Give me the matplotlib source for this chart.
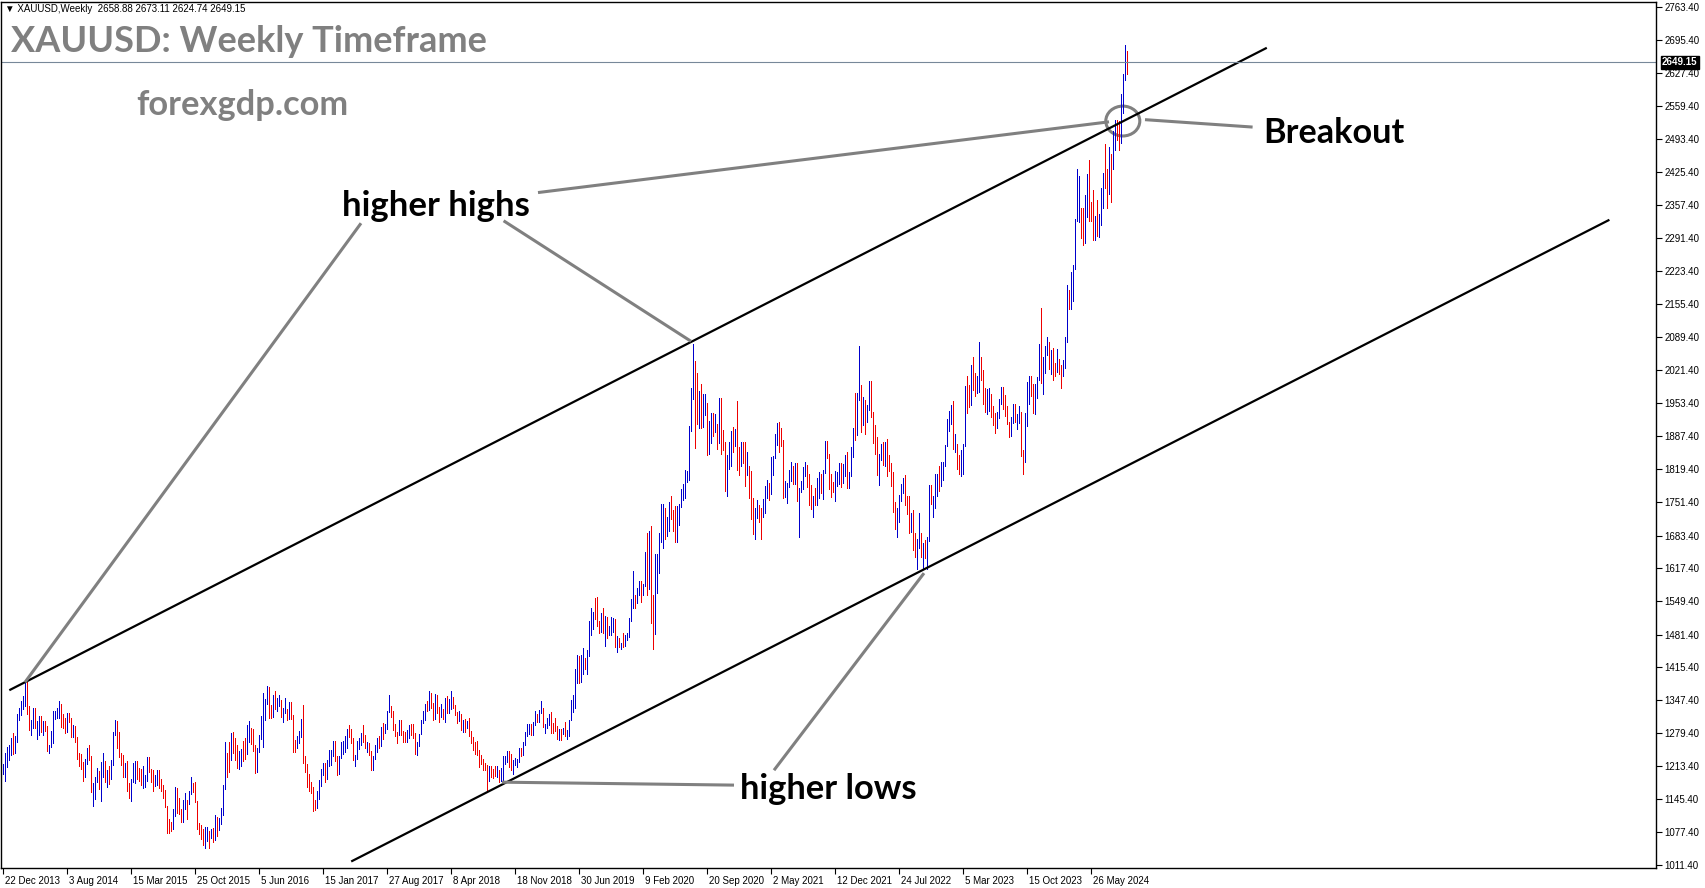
import numpy as np
import matplotlib
matplotlib.use("Agg")
import matplotlib.pyplot as plt
import matplotlib.transforms as mtransforms
from matplotlib.patches import Ellipse

# weekly XAUUSD bars, first bar = week of 22 Dec 2013, last bar = week of 29 Sep 2024
highs = [
    1217, 1240, 1251, 1255, 1270, 1280, 1274, 1320, 1332, 1345, 1355, 1385, 1392, 1336, 1307, 1331, 1331, 1305,
    1315, 1315, 1305, 1304, 1295, 1255, 1284, 1325, 1326, 1332, 1346, 1339, 1320, 1312, 1322, 1322, 1311, 1296,
    1294, 1273, 1240, 1237, 1221, 1228, 1250, 1255, 1233, 1178, 1191, 1208, 1203, 1221, 1239, 1224, 1205, 1212,
    # 2015
    1226, 1282, 1307, 1305, 1282, 1240, 1236, 1220, 1223, 1178, 1187, 1220, 1224, 1223, 1209, 1207, 1214, 1194,
    1232, 1232, 1207, 1205, 1194, 1205, 1205, 1187, 1175, 1165, 1132, 1105, 1098, 1125, 1170, 1169, 1147, 1126,
    1143, 1157, 1144, 1162, 1191, 1178, 1180, 1142, 1097, 1092, 1084, 1088, 1088, 1081, 1085, 1087,
    # 2016
    1112, 1109, 1107, 1127, 1175, 1263, 1240, 1261, 1280, 1283, 1270, 1255, 1243, 1248, 1264, 1271, 1297, 1304,
    1290, 1289, 1255, 1249, 1276, 1315, 1362, 1350, 1377, 1375, 1338, 1357, 1367, 1352, 1358, 1347, 1331, 1352,
    1330, 1344, 1343, 1318, 1267, 1275, 1285, 1308, 1338, 1233, 1218, 1197, 1180, 1171, 1144, 1163,
    # 2017
    1184, 1207, 1219, 1220, 1226, 1245, 1245, 1264, 1264, 1234, 1233, 1262, 1264, 1274, 1289, 1296, 1289, 1270,
    1236, 1264, 1270, 1281, 1296, 1277, 1261, 1260, 1243, 1234, 1256, 1270, 1275, 1292, 1300, 1299, 1326, 1358,
    1336, 1326, 1299, 1282, 1306, 1306, 1285, 1283, 1287, 1297, 1299, 1299, 1281, 1261, 1279, 1306,
    # 2018
    1326, 1339, 1345, 1366, 1362, 1341, 1361, 1357, 1334, 1340, 1329, 1352, 1356, 1349, 1366, 1354, 1337, 1323,
    1326, 1320, 1306, 1308, 1304, 1310, 1285, 1272, 1263, 1265, 1246, 1236, 1227, 1220, 1216, 1213, 1214, 1207,
    1212, 1212, 1204, 1208, 1233, 1233, 1243, 1243, 1237, 1225, 1230, 1228, 1250, 1250, 1262, 1283,
    # 2019
    1298, 1298, 1298, 1303, 1326, 1320, 1327, 1346, 1331, 1299, 1311, 1320, 1324, 1300, 1310, 1294, 1288, 1289,
    1290, 1303, 1287, 1306, 1348, 1358, 1411, 1439, 1437, 1439, 1453, 1434, 1449, 1509, 1535, 1527, 1555, 1557,
    1510, 1525, 1535, 1519, 1517, 1498, 1518, 1516, 1514, 1478, 1475, 1465, 1484, 1480, 1485, 1515,
    # 2020
    1553, 1611, 1563, 1576, 1591, 1591, 1584, 1649, 1689, 1692, 1703, 1562, 1645, 1645, 1689, 1747, 1747, 1739,
    1722, 1751, 1765, 1735, 1744, 1744, 1747, 1779, 1789, 1818, 1815, 1908, 1984, 2075, 2040, 2016, 1978, 1992,
    1973, 1973, 1954, 1917, 1933, 1933, 1932, 1911, 1965, 1965, 1898, 1875, 1848, 1875, 1897, 1906, 1900,
    # 2021
    1959, 1864, 1875, 1875, 1875, 1855, 1825, 1815, 1760, 1740, 1755, 1745, 1740, 1758, 1784, 1797, 1790, 1843,
    1845, 1890, 1913, 1916, 1903, 1878, 1795, 1790, 1818, 1834, 1825, 1832, 1832, 1780, 1795, 1823, 1834, 1827,
    1809, 1787, 1764, 1781, 1800, 1814, 1810, 1818, 1877, 1877, 1849, 1810, 1793, 1815, 1813, 1831,
    # 2022
    1831, 1830, 1848, 1853, 1814, 1865, 1902, 1974, 1974, 2070, 1990, 1966, 1960, 1950, 1998, 1998, 1936, 1909,
    1885, 1849, 1870, 1874, 1875, 1880, 1847, 1832, 1813, 1752, 1740, 1767, 1788, 1801, 1807, 1765, 1765, 1729,
    1735, 1688, 1676, 1729, 1689, 1669, 1675, 1681, 1786, 1787, 1764, 1810, 1810, 1825, 1833, 1833,
    # 2023
    1869, 1922, 1937, 1949, 1959, 1890, 1870, 1847, 1858, 1870, 1989, 2010, 1990, 2032, 2048, 2015, 2009, 2079,
    2048, 2022, 1985, 1983, 1985, 1972, 1947, 1934, 1935, 1963, 1987, 1987, 1970, 1948, 1916, 1925, 1953, 1953,
    1932, 1947, 1935, 1858, 1933, 1997, 2009, 2009, 1993, 1993, 2008, 2075, 2148, 2048, 2070, 2088,
    # 2024
    2078, 2062, 2067, 2036, 2065, 2044, 2031, 2041, 2088, 2195, 2185, 2222, 2236, 2330, 2431, 2417, 2353, 2352,
    2378, 2422, 2450, 2364, 2388, 2335, 2368, 2340, 2392, 2424, 2483, 2432, 2477, 2462, 2509, 2531, 2531, 2529,
    2585, 2625, 2685, 2673.11,
]
lows = [
    1196, 1182, 1211, 1225, 1235, 1238, 1240, 1261, 1306, 1318, 1330, 1336, 1320, 1287, 1277, 1291, 1291, 1268,
    1277, 1283, 1277, 1284, 1244, 1240, 1251, 1260, 1309, 1310, 1311, 1292, 1290, 1281, 1282, 1302, 1273, 1273,
    1262, 1227, 1214, 1207, 1183, 1190, 1218, 1226, 1160, 1131, 1145, 1180, 1167, 1142, 1190, 1180, 1170, 1177,
    # 2015
    1186, 1215, 1276, 1250, 1232, 1216, 1191, 1191, 1162, 1147, 1142, 1180, 1178, 1186, 1183, 1175, 1169, 1170,
    1182, 1200, 1180, 1162, 1172, 1175, 1168, 1162, 1147, 1130, 1077, 1077, 1080, 1085, 1110, 1117, 1115, 1098,
    1098, 1125, 1105, 1136, 1155, 1160, 1140, 1085, 1075, 1065, 1052, 1046, 1059, 1046, 1066, 1057,
    # 2016
    1061, 1071, 1082, 1095, 1113, 1166, 1191, 1200, 1226, 1240, 1226, 1208, 1207, 1212, 1224, 1227, 1237, 1262,
    1258, 1244, 1199, 1200, 1241, 1269, 1251, 1307, 1339, 1310, 1310, 1313, 1330, 1326, 1335, 1314, 1302, 1322,
    1306, 1308, 1309, 1241, 1241, 1250, 1259, 1273, 1220, 1201, 1171, 1161, 1157, 1122, 1124, 1128,
    # 2017
    1146, 1173, 1194, 1180, 1187, 1214, 1216, 1233, 1223, 1195, 1196, 1229, 1237, 1241, 1250, 1273, 1260, 1226,
    1214, 1228, 1247, 1255, 1262, 1250, 1242, 1236, 1204, 1205, 1227, 1242, 1250, 1253, 1268, 1281, 1289, 1324,
    1314, 1287, 1275, 1260, 1277, 1277, 1262, 1263, 1263, 1270, 1276, 1270, 1237, 1236, 1253, 1278,
    # 2018
    1300, 1307, 1325, 1327, 1331, 1307, 1309, 1321, 1303, 1313, 1309, 1303, 1321, 1321, 1330, 1331, 1317, 1301,
    1304, 1286, 1283, 1282, 1290, 1275, 1260, 1245, 1237, 1236, 1211, 1217, 1204, 1205, 1160, 1183, 1190, 1189,
    1192, 1190, 1180, 1182, 1183, 1218, 1221, 1211, 1205, 1196, 1215, 1211, 1221, 1233, 1236, 1256,
    # 2019
    1275, 1279, 1276, 1276, 1297, 1302, 1302, 1321, 1292, 1281, 1290, 1297, 1281, 1280, 1284, 1269, 1266, 1266,
    1279, 1274, 1269, 1274, 1306, 1323, 1331, 1382, 1382, 1385, 1401, 1412, 1400, 1437, 1480, 1492, 1514, 1499,
    1484, 1486, 1485, 1458, 1474, 1480, 1481, 1486, 1456, 1445, 1456, 1452, 1455, 1458, 1471, 1477,
    # 2020
    1508, 1536, 1536, 1546, 1562, 1547, 1563, 1580, 1563, 1575, 1504, 1451, 1482, 1567, 1608, 1671, 1659, 1677,
    1683, 1692, 1717, 1693, 1670, 1671, 1704, 1742, 1755, 1761, 1792, 1797, 1896, 1963, 1863, 1911, 1902, 1902,
    1906, 1930, 1848, 1849, 1873, 1887, 1894, 1860, 1872, 1850, 1859, 1775, 1764, 1820, 1826, 1855, 1867,
    # 2021
    1817, 1807, 1826, 1832, 1785, 1807, 1760, 1717, 1687, 1676, 1719, 1712, 1677, 1721, 1730, 1760, 1756, 1769,
    1808, 1841, 1868, 1855, 1866, 1761, 1762, 1750, 1783, 1795, 1789, 1789, 1753, 1680, 1772, 1778, 1805, 1782,
    1745, 1738, 1721, 1746, 1746, 1760, 1770, 1758, 1812, 1842, 1778, 1762, 1772, 1753, 1785, 1789,
    # 2022
    1783, 1790, 1805, 1780, 1780, 1806, 1843, 1878, 1889, 1960, 1895, 1910, 1890, 1915, 1940, 1926, 1872, 1850,
    1807, 1786, 1837, 1828, 1825, 1805, 1816, 1785, 1732, 1697, 1681, 1711, 1754, 1771, 1745, 1727, 1688, 1690,
    1654, 1639, 1615, 1659, 1640, 1617, 1638, 1616, 1673, 1747, 1721, 1740, 1765, 1774, 1784, 1797,
    # 2023
    1825, 1867, 1896, 1911, 1861, 1853, 1819, 1809, 1804, 1809, 1867, 1934, 1945, 1950, 1981, 1969, 1975, 1976,
    2000, 1952, 1936, 1932, 1937, 1925, 1910, 1893, 1902, 1923, 1952, 1942, 1928, 1912, 1885, 1886, 1913, 1915,
    1901, 1913, 1846, 1810, 1834, 1908, 1953, 1969, 1933, 1931, 1965, 2001, 1994, 1973, 2016, 2052,
    # 2024
    2024, 2013, 2001, 2010, 2017, 2014, 1984, 2010, 2025, 2079, 2146, 2146, 2163, 2228, 2325, 2324, 2291, 2277,
    2280, 2333, 2325, 2325, 2286, 2286, 2295, 2293, 2318, 2353, 2392, 2353, 2381, 2364, 2431, 2470, 2491, 2471,
    2485, 2546, 2614, 2624.74,
]
closes = [
    1213, 1237, 1247, 1254, 1264, 1240, 1262, 1318, 1324, 1326, 1340, 1379, 1334, 1294, 1303, 1318, 1293, 1300,
    1302, 1290, 1293, 1292, 1250, 1253, 1275, 1315, 1320, 1320, 1338, 1310, 1303, 1294, 1310, 1306, 1280, 1286,
    1268, 1231, 1216, 1215, 1192, 1222, 1238, 1231, 1171, 1177, 1189, 1196, 1175, 1191, 1222, 1195, 1195, 1189,
    # 2015
    1216, 1277, 1292, 1279, 1234, 1227, 1205, 1213, 1166, 1152, 1183, 1199, 1219, 1207, 1203, 1178, 1178, 1189,
    1225, 1205, 1190, 1169, 1180, 1200, 1173, 1168, 1162, 1131, 1096, 1095, 1094, 1113, 1160, 1134, 1121, 1103,
    1138, 1145, 1137, 1156, 1177, 1162, 1141, 1088, 1082, 1076, 1057, 1062, 1075, 1065, 1076, 1061,
    # 2016
    1104, 1090, 1097, 1117, 1173, 1239, 1230, 1221, 1271, 1259, 1254, 1220, 1222, 1240, 1234, 1233, 1291, 1292,
    1273, 1253, 1214, 1243, 1275, 1298, 1322, 1340, 1366, 1327, 1322, 1350, 1335, 1336, 1341, 1320, 1327, 1328,
    1310, 1339, 1316, 1257, 1251, 1267, 1276, 1303, 1225, 1207, 1183, 1177, 1160, 1134, 1133, 1151,
    # 2017
    1173, 1197, 1204, 1190, 1220, 1234, 1236, 1257, 1226, 1201, 1229, 1249, 1249, 1254, 1286, 1284, 1268, 1227,
    1228, 1254, 1267, 1280, 1266, 1254, 1257, 1241, 1212, 1228, 1254, 1269, 1258, 1289, 1285, 1291, 1325, 1346,
    1320, 1297, 1280, 1274, 1303, 1280, 1274, 1269, 1275, 1293, 1288, 1280, 1248, 1256, 1277, 1303,
    # 2018
    1320, 1337, 1332, 1350, 1333, 1315, 1347, 1330, 1323, 1324, 1313, 1347, 1325, 1335, 1345, 1336, 1323, 1314,
    1319, 1292, 1302, 1294, 1299, 1278, 1269, 1253, 1242, 1241, 1231, 1223, 1214, 1212, 1184, 1206, 1199, 1198,
    1193, 1200, 1192, 1203, 1222, 1227, 1234, 1233, 1208, 1221, 1222, 1222, 1248, 1238, 1257, 1280,
    # 2019
    1285, 1289, 1282, 1298, 1318, 1314, 1322, 1328, 1294, 1298, 1302, 1313, 1292, 1291, 1290, 1276, 1286, 1280,
    1286, 1277, 1283, 1305, 1340, 1341, 1399, 1409, 1400, 1415, 1426, 1419, 1440, 1497, 1513, 1526, 1520, 1506,
    1488, 1516, 1497, 1504, 1489, 1490, 1505, 1514, 1459, 1467, 1462, 1464, 1460, 1476, 1478, 1511,
    # 2020
    1552, 1562, 1557, 1571, 1589, 1570, 1584, 1643, 1585, 1673, 1530, 1498, 1617, 1620, 1683, 1683, 1726, 1700,
    1703, 1743, 1734, 1730, 1684, 1729, 1743, 1771, 1774, 1799, 1810, 1902, 1975, 2035, 1944, 1940, 1964, 1933,
    1940, 1950, 1861, 1899, 1930, 1899, 1902, 1879, 1951, 1889, 1871, 1788, 1839, 1839, 1881, 1877, 1898,
    # 2021
    1850, 1828, 1856, 1847, 1813, 1823, 1783, 1734, 1700, 1727, 1745, 1732, 1728, 1744, 1777, 1777, 1769, 1831,
    1843, 1881, 1904, 1892, 1877, 1764, 1781, 1787, 1808, 1812, 1802, 1814, 1763, 1780, 1781, 1818, 1827, 1787,
    1754, 1750, 1761, 1757, 1767, 1792, 1783, 1818, 1864, 1846, 1792, 1783, 1782, 1798, 1809, 1829,
    # 2022
    1797, 1818, 1835, 1791, 1808, 1859, 1898, 1889, 1966, 1988, 1921, 1958, 1925, 1945, 1974, 1931, 1896, 1883,
    1811, 1846, 1853, 1850, 1871, 1839, 1827, 1811, 1742, 1703, 1727, 1766, 1775, 1802, 1747, 1737, 1712, 1716,
    1675, 1644, 1660, 1695, 1644, 1657, 1645, 1681, 1771, 1751, 1755, 1797, 1797, 1793, 1798, 1824,
    # 2023
    1865, 1920, 1926, 1928, 1865, 1865, 1842, 1811, 1856, 1868, 1989, 1978, 1969, 2007, 2004, 1983, 1990, 2017,
    2011, 1977, 1946, 1948, 1961, 1958, 1921, 1919, 1925, 1955, 1961, 1959, 1942, 1913, 1889, 1915, 1940, 1918,
    1924, 1925, 1848, 1833, 1932, 1981, 2006, 1993, 1940, 1981, 2002, 2072, 2004, 2019, 2053, 2063,
    # 2024
    2045, 2049, 2029, 2018, 2039, 2024, 2013, 2035, 2083, 2179, 2155, 2165, 2230, 2329, 2344, 2392, 2338, 2301,
    2360, 2415, 2334, 2327, 2293, 2333, 2322, 2326, 2391, 2411, 2400, 2387, 2443, 2431, 2507, 2512, 2503, 2497,
    2578, 2621, 2658.88, 2649.15,
]
first_open = 1203.0

date_labels = ["22 Dec 2013", "3 Aug 2014", "15 Mar 2015", "25 Oct 2015", "5 Jun 2016", "15 Jan 2017",
               "27 Aug 2017", "8 Apr 2018", "18 Nov 2018", "30 Jun 2019", "9 Feb 2020", "20 Sep 2020",
               "2 May 2021", "12 Dec 2021", "24 Jul 2022", "5 Mar 2023", "15 Oct 2023", "26 May 2024"]
price_ticks = [2763.40, 2695.40, 2627.40, 2559.40, 2493.40, 2425.40, 2357.40, 2291.40, 2223.40, 2155.40,
               2089.40, 2021.40, 1953.40, 1887.40, 1819.40, 1751.40, 1683.40, 1617.40, 1549.40, 1481.40,
               1415.40, 1347.40, 1279.40, 1213.40, 1145.40, 1077.40, 1011.40]
last_price = 2649.15

# trend lines drawn on the chart: (bar, price) anchors
upper_channel = [(3.15, 1367.7), (631.9, 2679.1)]
lower_channel = [(174.1, 1018.1), (803.2, 2328.0)]
pointer_lines = [
    [(179, 2321), (11, 1384)],
    [(250.3, 2326), (344, 2080)],
    [(267.5, 2383.6), (553, 2528)],
    [(571, 2532.4), (624.8, 2517.3)],
    [(365.5, 1174), (249.5, 1180)],
    [(385.5, 1204.4), (460.5, 1606.7)],
]

W, H = 1705, 888
fig = plt.figure(figsize=(W / 100, H / 100), dpi=100)
ax = fig.add_axes([1 / W, 20 / H, 1655 / W, 866 / H])

n = len(closes)
idx = np.arange(n)
opens = np.array([first_open] + closes[:-1])
up = np.array(closes) >= opens
colors = np.where(up, "#0000cc", "#ee0000")
ax.vlines(idx, lows, highs, colors=colors, linewidth=0.72, antialiased=False)

for line in (upper_channel, lower_channel):
    (x0, y0), (x1, y1) = line
    ax.plot([x0, x1], [y0, y1], color="black", lw=1.6, solid_capstyle="butt")

for (x0, y0), (x1, y1) in pointer_lines:
    ax.plot([x0, x1], [y0, y1], color="#808080", lw=2.2, solid_capstyle="butt")
ax.add_patch(Ellipse((559.9, 2529.6), width=17, height=61, fill=False, edgecolor="#808080", lw=2.2))

ax.axhline(last_price, color="#778899", lw=0.8)

ax.set_xlim(-1, 826.5)
ax.set_ylim(1004.8, 2772.6)

ax.yaxis.tick_right()
ax.set_yticks(price_ticks)
ax.set_yticklabels([f"{p:.2f}" for p in price_ticks], fontsize=7, family="Liberation Sans")
ax.tick_params(axis="y", direction="out", length=4, pad=2, width=0.8)
ax.set_xticks(np.arange(len(date_labels)) * 32)
ax.set_xticklabels(date_labels, fontsize=7, family="Liberation Sans", ha="left")
ax.tick_params(axis="x", direction="out", length=4, pad=2, width=0.8)
shift = mtransforms.ScaledTranslation(2 / 100, 0, fig.dpi_scale_trans)
for lbl in ax.get_xticklabels():
    lbl.set_transform(lbl.get_transform() + shift)
for s in ax.spines.values():
    s.set_linewidth(1.0)

tag_tr = mtransforms.blended_transform_factory(ax.transAxes, ax.transData)
ax.text(1.0 + 6 / 1655, last_price, f"{last_price:.2f}", transform=tag_tr, ha="left", va="center",
        fontsize=7, family="Liberation Sans", color="white", fontweight="bold",
        bbox=dict(boxstyle="square,pad=0.12", fc="black", ec="black"), zorder=5)

fig.text(5 / W, 1 - 9.5 / H, "\u25bc XAUUSD,Weekly  2658.88 2673.11 2624.74 2649.15", fontsize=7,
         family=["Liberation Sans", "DejaVu Sans"], va="center")

title = fig.text(11 / W, 1 - 41 / H, "XAUUSD: Weekly Timeframe", fontsize=24, family="Lato",
                 fontweight="bold", color="#808080", va="center")
site = fig.text(136 / W, 1 - 105 / H, "forexgdp.com", fontsize=18, family="Lato",
                fontweight="bold", color="#808080", va="center")
t_hh = ax.text(216.5, 2357, "higher highs", fontsize=20, family="Lato", fontweight="bold",
               ha="center", va="center")
t_bo = ax.text(665.5, 2506, "Breakout", fontsize=20, family="Lato", fontweight="bold",
               ha="center", va="center")
t_hl = ax.text(412.5, 1167, "higher lows", fontsize=20, family="Lato", fontweight="bold",
               ha="center", va="center")

# scale the big labels to the widths they have in the screenshot
fig.canvas.draw()
for txt, width in [(title, 476), (site, 212), (t_hh, 187), (t_bo, 141), (t_hl, 177)]:
    w = txt.get_window_extent().width
    txt.set_fontsize(txt.get_fontsize() * width / w)

fig.savefig("out.png", dpi=100)
